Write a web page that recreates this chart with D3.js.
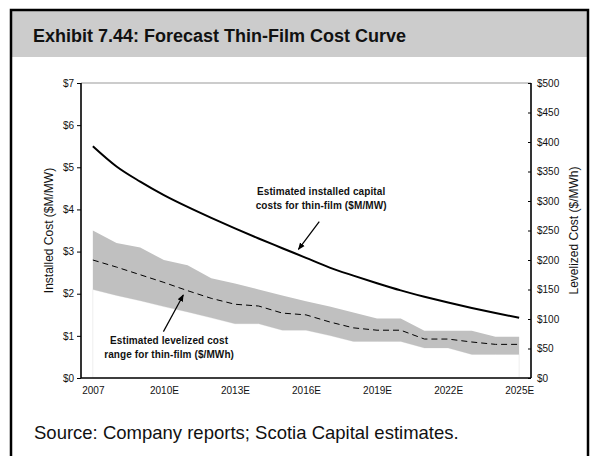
<!DOCTYPE html>
<html>
<head>
<meta charset="utf-8">
<script src="https://cdn.jsdelivr.net/npm/d3@7"></script>
<style>
  body { margin: 0; background: #fff; }
  svg { display: block; font-family: Arial, "Liberation Sans", sans-serif; }
</style>
</head>
<body>
<svg id="chart" width="591" height="456"></svg>
<script>
// Chart data
var categories = ["2007", "2008E", "2009E", "2010E", "2011E", "2012E", "2013E", "2014E", "2015E", "2016E",
                  "2017E", "2018E", "2019E", "2020E", "2021E", "2022E", "2023E", "2024E", "2025E"];
var xTickLabels = ["2007", "2010E", "2013E", "2016E", "2019E", "2022E", "2025E"];

// installed capital cost, $M/MW (left axis)
var installedCost = [5.50, 5.02, 4.66, 4.34, 4.06, 3.80, 3.55, 3.31, 3.08, 2.85,
                     2.62, 2.43, 2.25, 2.08, 1.93, 1.79, 1.66, 1.54, 1.43];
// levelized cost range, $/MWh (right axis)
var levelizedLow  = [150, 140, 131, 121, 112, 102, 92, 92, 81, 81, 72, 62, 62, 62, 51, 51, 40, 40, 40];
var levelizedHigh = [250, 229, 221, 200, 191, 169, 160, 150, 140, 130, 121, 111, 101, 101, 80, 80, 80, 70, 70];
var levelizedMid  = [200, 188, 175, 162, 148, 135, 125, 122, 110, 107, 95, 85, 81, 81, 66, 66, 61, 57, 57];

var leftTicks = [0, 1, 2, 3, 4, 5, 6, 7];
var rightTicks = [0, 50, 100, 150, 200, 250, 300, 350, 400, 450, 500];

var svg = d3.select("#chart");
var plotLeft = 81, plotRight = 531, plotTop = 83, plotBottom = 378;

// frame + title band
svg.append("rect").attr("x", 11).attr("y", 10).attr("width", 577).attr("height", 47)
  .attr("fill", "#cccccc");
svg.append("rect").attr("x", 11).attr("y", 10).attr("width", 577).attr("height", 460)
  .attr("fill", "none").attr("stroke", "black").attr("stroke-width", 2.5);

svg.append("text").attr("x", 33).attr("y", 42)
  .style("font-size", "18px").style("font-weight", "bold").attr("fill", "#111")
  .text("Exhibit 7.44: Forecast Thin-Film Cost Curve");

svg.append("text").attr("x", 34).attr("y", 439)
  .style("font-size", "18.5px").attr("fill", "#111")
  .text("Source: Company reports; Scotia Capital estimates.");

// scales
var x = d3.scalePoint().domain(categories).range([plotLeft, plotRight]).padding(0.5);
var yLeft = d3.scaleLinear().domain([0, 7]).range([plotBottom, plotTop]);
var yRight = d3.scaleLinear().domain([0, 500]).range([plotBottom, plotTop]);
var xIdx = d3.scaleLinear().domain([0, categories.length - 1])
  .range([x(categories[0]), x(categories[categories.length - 1])]);

// top border of plot area
svg.append("line").attr("x1", plotLeft).attr("x2", plotRight)
  .attr("y1", plotTop).attr("y2", plotTop)
  .attr("stroke", "#999").attr("stroke-width", 1);

// levelized range band
var rows = categories.map(function(c, i) {
  return { cat: c, low: levelizedLow[i], high: levelizedHigh[i], mid: levelizedMid[i], inst: installedCost[i] };
});

svg.append("path").datum(rows)
  .attr("d", d3.area().x(function(d) { return x(d.cat); })
    .y0(plotBottom).y1(function(d) { return yRight(d.low); }))
  .attr("fill", "white").attr("stroke", "#eeeeee").attr("stroke-width", 1);

svg.append("path").datum(rows)
  .attr("d", d3.area().x(function(d) { return x(d.cat); })
    .y0(function(d) { return yRight(d.low); })
    .y1(function(d) { return yRight(d.high); }))
  .attr("fill", "#c0c0c0");

svg.append("path").datum(rows)
  .attr("d", d3.line().x(function(d) { return x(d.cat); }).y(function(d) { return yRight(d.mid); }))
  .attr("fill", "none").attr("stroke", "black").attr("stroke-width", 1)
  .attr("stroke-dasharray", "6,4");

// installed cost line
svg.append("path").datum(rows)
  .attr("d", d3.line().x(function(d) { return x(d.cat); }).y(function(d) { return yLeft(d.inst); })
    .curve(d3.curveMonotoneX))
  .attr("fill", "none").attr("stroke", "black").attr("stroke-width", 2);

// axes
var leftAxis = svg.append("g").attr("transform", "translate(" + plotLeft + ",0)")
  .call(d3.axisLeft(yLeft).tickValues(leftTicks).tickSize(4).tickPadding(3)
    .tickFormat(function(d) { return "$" + d; }));
var rightAxis = svg.append("g").attr("transform", "translate(" + plotRight + ",0)")
  .call(d3.axisRight(yRight).tickValues(rightTicks).tickSizeInner(-3).tickSizeOuter(0).tickPadding(6)
    .tickFormat(function(d) { return "$" + d; }));
var bottomAxis = svg.append("g").attr("transform", "translate(0," + plotBottom + ")")
  .call(d3.axisBottom(x).tickValues(xTickLabels).tickSize(0).tickPadding(9));

[leftAxis, rightAxis, bottomAxis].forEach(function(a) {
  a.select(".domain").attr("stroke", "black").attr("stroke-width", 1.6);
  a.selectAll(".tick line").attr("stroke", "black");
  a.selectAll("text").style("font-size", "10px").attr("fill", "#111")
    .style("font-family", "Arial, 'Liberation Sans', sans-serif");
});
leftAxis.select(".domain").attr("d", "M0," + plotTop + "V" + plotBottom);
rightAxis.select(".domain").attr("d", "M0," + plotTop + "V" + plotBottom);
bottomAxis.select(".domain").attr("d", "M" + plotLeft + ",0H" + plotRight);

// axis titles
svg.append("text").attr("transform", "translate(53," + (plotTop + plotBottom) / 2 + ") rotate(-90)")
  .attr("text-anchor", "middle").style("font-size", "12px").attr("fill", "#111")
  .text("Installed Cost ($M/MW)");
svg.append("text").attr("transform", "translate(578," + (plotTop + plotBottom) / 2 + ") rotate(-90)")
  .attr("text-anchor", "middle").style("font-size", "12px").attr("fill", "#111")
  .text("Levelized Cost ($/MWh)");

// annotations
svg.append("defs").append("marker").attr("id", "arrow")
  .attr("viewBox", "0 0 10 10").attr("refX", 9).attr("refY", 5)
  .attr("markerWidth", 6).attr("markerHeight", 6).attr("orient", "auto")
  .append("path").attr("d", "M0,1L10,5L0,9Z").attr("fill", "black");

var notes = [
  { lines: ["Estimated installed capital", "costs for thin-film ($M/MW)"], ti: 9.64, tv: 4.35,
    from: [9.56, 3.71], to: [8.68, 3.05] },
  { lines: ["Estimated levelized cost", "range for thin-film ($/MWh)"], ti: 3.22, tv: 0.81,
    from: [2.98, 1.10], to: [3.82, 1.97] }
];

notes.forEach(function(n) {
  var t = svg.append("text").attr("text-anchor", "middle")
    .style("font-size", "10px").style("font-weight", "bold").attr("fill", "#111")
    .style("letter-spacing", "0.1px");
  n.lines.forEach(function(l, k) {
    t.append("tspan").attr("x", xIdx(n.ti)).attr("y", yLeft(n.tv) + k * 14).text(l);
  });
  svg.append("line")
    .attr("x1", xIdx(n.from[0])).attr("y1", yLeft(n.from[1]))
    .attr("x2", xIdx(n.to[0])).attr("y2", yLeft(n.to[1]))
    .attr("stroke", "black").attr("stroke-width", 1.2).attr("marker-end", "url(#arrow)");
});
</script>
</body>
</html>
